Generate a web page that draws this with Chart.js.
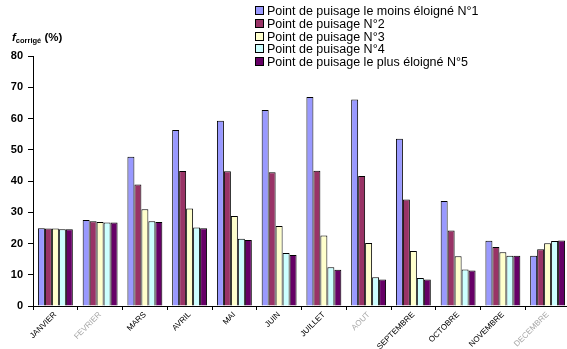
<!DOCTYPE html>
<html>
<head>
<meta charset="utf-8">
<script src="https://cdn.jsdelivr.net/npm/chart.js@4"></script>
<style>
  html, body { margin: 0; padding: 0; background: #fff; overflow: hidden; }
  #wrap { position: relative; width: 567px; height: 349px; overflow: hidden; }
  #c { position: absolute; left: 0; top: 0; }
  #ytitle { position: absolute; left: 12px; top: 31px; font: bold 11.5px "Liberation Sans", Arial, sans-serif; color: #000; white-space: nowrap; }
  #ytitle sub { font-size: 7.5px; vertical-align: -2px; }
  #legend { position: absolute; left: 255px; top: 5px; font: 12.5px "Liberation Sans", Arial, sans-serif; color: #000; }
  .row { height: 12.8px; line-height: 12.8px; white-space: nowrap; }
  .sq { display: inline-block; width: 7px; height: 7px; border: 1px solid #000; margin-right: 3px; }
</style>
</head>
<body>
<div id="wrap">
  <canvas id="c" width="570" height="349"></canvas>
  <div id="ytitle"><i>f</i><sub>corrigé</sub> (%)</div>
  <div id="legend"></div>
</div>
<script>
//months on the x axis
const mois = ['JANVIER', 'FEVRIER', 'MARS', 'AVRIL', 'MAI', 'JUIN', 'JUILLET', 'AOUT', 'SEPTEMBRE', 'OCTOBRE', 'NOVEMBRE', 'DECEMBRE'];
//months drawn in grey in the original
const moisGris = ['FEVRIER', 'AOUT', 'DECEMBRE'];

//series names
const noms = ['Point de puisage le moins éloigné N°1', 'Point de puisage N°2', 'Point de puisage N°3', 'Point de puisage N°4', 'Point de puisage le plus éloigné N°5'];

//f corrigé (%) for each point
const point1 = [24.9, 27.5, 47.8, 56.3, 59.3, 62.7, 66.9, 66.1, 53.5, 33.6, 20.9, 16.1];
const point2 = [24.8, 27.1, 38.9, 43.2, 43.1, 42.8, 43.3, 41.6, 34.1, 24.2, 18.9, 18.2];
const point3 = [24.8, 26.9, 31.0, 31.2, 28.8, 25.6, 22.6, 20.2, 17.6, 15.9, 17.2, 20.1];
const point4 = [24.6, 26.7, 27.1, 25.1, 21.5, 17.0, 12.4, 9.2, 9.0, 11.7, 16.1, 20.8];
const point5 = [24.6, 26.7, 26.9, 24.9, 21.1, 16.3, 11.6, 8.5, 8.5, 11.4, 16.1, 21.0];

//y axis ticks
const yMin = 0, yMax = 80, yStep = 10;

const couleurs = ['#9999FF', '#993366', '#FFFFCC', '#CCFFFF', '#660066'];
const series = [point1, point2, point3, point4, point5];

let datasets = [];
for (let i = 0; i < series.length; i++) {
    datasets.push({
        label: noms[i],
        data: series[i],
        backgroundColor: couleurs[i],
        borderColor: '#000',
        borderWidth: 1,
        borderSkipped: 'bottom'
    });
}

//html legend
let leg = document.getElementById('legend');
for (let i = 0; i < noms.length; i++) {
    leg.innerHTML += '<div class="row"><span class="sq" style="background:' + couleurs[i] + '"></span>' + noms[i] + '</div>';
}

const ctx = document.getElementById('c');
new Chart(ctx, {
    type: 'bar',
    data: { labels: mois, datasets: datasets },
    options: {
        responsive: false,
        animation: false,
        layout: { padding: { top: 56, right: 0, left: 0, bottom: 0 } },
        plugins: { legend: { display: false }, tooltip: { enabled: false } },
        datasets: { bar: { categoryPercentage: 0.78, barPercentage: 1.0 } },
        scales: {
            x: {
                grid: { display: true, drawOnChartArea: false, drawTicks: true, tickLength: 4, color: '#000', offset: true },
                border: { display: true, color: '#000', width: 1 },
                ticks: {
                    maxRotation: 45, minRotation: 45, autoSkip: false, padding: 0,
                    font: { family: '"Liberation Sans", Arial, sans-serif', size: 8 },
                    color: (c) => moisGris.includes(mois[c.index]) ? '#a8a8a8' : '#000'
                },
                afterFit: (s) => { s.height = 43; }
            },
            y: {
                min: yMin, max: yMax,
                grid: { drawOnChartArea: false, drawTicks: true, tickLength: 5, color: '#000' },
                border: { display: true, color: '#000', width: 1 },
                ticks: {
                    stepSize: yStep, padding: 5,
                    font: { family: '"Liberation Sans", Arial, sans-serif', size: 11, weight: 'bold' },
                    color: '#000'
                },
                afterFit: (s) => { s.width = 33; }
            }
        }
    }
});
</script>
</body>
</html>
